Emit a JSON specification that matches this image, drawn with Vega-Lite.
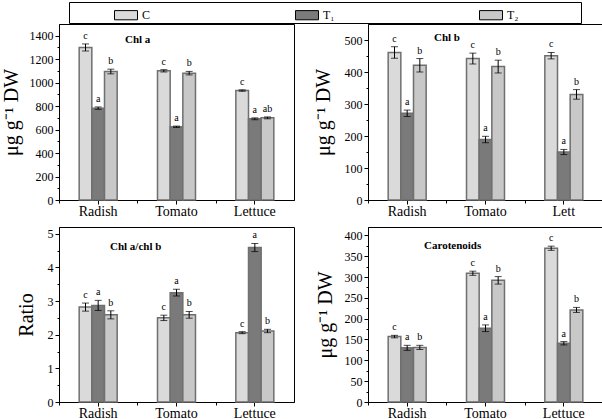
{
  "$schema": "https://vega.github.io/schema/vega-lite/v6.json",
  "padding": {"left": 0, "top": 1, "right": 0, "bottom": 0},
  "background": "white",
  "bounds": "flush",
  "columns": 2,
  "spacing": {"row": 27, "column": 74},
  "config": {
    "font": "Liberation Serif",
    "view": {"stroke": "black", "strokeWidth": 1},
    "axis": {"grid": false, "domainColor": "black", "tickColor": "black", "labelColor": "black", "titleColor": "black", "labelFont": "Liberation Serif", "titleFont": "Liberation Serif", "titleFontWeight": "normal", "tickSize": 4, "labelPadding": 2, "labelOverlap": false},
    "axisX": {"labelFontSize": 14, "labelAngle": 0, "title": null, "labelPadding": 0},
    "axisY": {"labelFontSize": 12, "titleFontSize": 20, "format": "d"},
    "title": {"anchor": "start", "frame": "group", "offset": 0, "baseline": "middle", "fontSize": 11, "fontWeight": "bold", "font": "Liberation Serif", "color": "black"}
  },
  "datasets": {
    "d": [
      {"p": "Chl a", "cat": "Radish", "trt": "C", "v": 1300, "lo": 1270, "hi": 1330, "lab": "c"},
      {"p": "Chl a", "cat": "Radish", "trt": "T₁", "v": 783, "lo": 773, "hi": 793, "lab": "a"},
      {"p": "Chl a", "cat": "Radish", "trt": "T₂", "v": 1095, "lo": 1075, "hi": 1115, "lab": "b"},
      {"p": "Chl a", "cat": "Tomato", "trt": "C", "v": 1101, "lo": 1091, "hi": 1111, "lab": "c"},
      {"p": "Chl a", "cat": "Tomato", "trt": "T₁", "v": 624, "lo": 618, "hi": 630, "lab": "a"},
      {"p": "Chl a", "cat": "Tomato", "trt": "T₂", "v": 1081, "lo": 1066, "hi": 1096, "lab": "b"},
      {"p": "Chl a", "cat": "Lettuce", "trt": "C", "v": 933, "lo": 927, "hi": 939, "lab": "c"},
      {"p": "Chl a", "cat": "Lettuce", "trt": "T₁", "v": 692, "lo": 684, "hi": 700, "lab": "a"},
      {"p": "Chl a", "cat": "Lettuce", "trt": "T₂", "v": 700, "lo": 692, "hi": 708, "lab": "ab"},
      {"p": "Chl b", "cat": "Radish", "trt": "C", "v": 461, "lo": 443, "hi": 479, "lab": "c"},
      {"p": "Chl b", "cat": "Radish", "trt": "T₁", "v": 271, "lo": 261, "hi": 281, "lab": "a"},
      {"p": "Chl b", "cat": "Radish", "trt": "T₂", "v": 421, "lo": 400, "hi": 442, "lab": "b"},
      {"p": "Chl b", "cat": "Tomato", "trt": "C", "v": 442, "lo": 425, "hi": 459, "lab": "c"},
      {"p": "Chl b", "cat": "Tomato", "trt": "T₁", "v": 189, "lo": 179, "hi": 199, "lab": "a"},
      {"p": "Chl b", "cat": "Tomato", "trt": "T₂", "v": 417, "lo": 397, "hi": 437, "lab": "b"},
      {"p": "Chl b", "cat": "Lettuce", "trt": "C", "v": 451, "lo": 441, "hi": 461, "lab": "c"},
      {"p": "Chl b", "cat": "Lettuce", "trt": "T₁", "v": 150, "lo": 142, "hi": 158, "lab": "a"},
      {"p": "Chl b", "cat": "Lettuce", "trt": "T₂", "v": 330, "lo": 315, "hi": 345, "lab": "b"},
      {"p": "Ratio", "cat": "Radish", "trt": "C", "v": 2.82, "lo": 2.70, "hi": 2.94, "lab": "c"},
      {"p": "Ratio", "cat": "Radish", "trt": "T₁", "v": 2.87, "lo": 2.72, "hi": 3.02, "lab": "a"},
      {"p": "Ratio", "cat": "Radish", "trt": "T₂", "v": 2.59, "lo": 2.47, "hi": 2.71, "lab": "b"},
      {"p": "Ratio", "cat": "Tomato", "trt": "C", "v": 2.50, "lo": 2.42, "hi": 2.58, "lab": "c"},
      {"p": "Ratio", "cat": "Tomato", "trt": "T₁", "v": 3.25, "lo": 3.15, "hi": 3.35, "lab": "a"},
      {"p": "Ratio", "cat": "Tomato", "trt": "T₂", "v": 2.59, "lo": 2.49, "hi": 2.69, "lab": "b"},
      {"p": "Ratio", "cat": "Lettuce", "trt": "C", "v": 2.06, "lo": 2.03, "hi": 2.09, "lab": "c"},
      {"p": "Ratio", "cat": "Lettuce", "trt": "T₁", "v": 4.59, "lo": 4.47, "hi": 4.71, "lab": "a"},
      {"p": "Ratio", "cat": "Lettuce", "trt": "T₂", "v": 2.11, "lo": 2.06, "hi": 2.16, "lab": "b"},
      {"p": "Car", "cat": "Radish", "trt": "C", "v": 157, "lo": 154, "hi": 160, "lab": "c"},
      {"p": "Car", "cat": "Radish", "trt": "T₁", "v": 130, "lo": 124, "hi": 136, "lab": "a"},
      {"p": "Car", "cat": "Radish", "trt": "T₂", "v": 131, "lo": 126, "hi": 136, "lab": "b"},
      {"p": "Car", "cat": "Tomato", "trt": "C", "v": 309, "lo": 304, "hi": 314, "lab": "c"},
      {"p": "Car", "cat": "Tomato", "trt": "T₁", "v": 177, "lo": 169, "hi": 185, "lab": "a"},
      {"p": "Car", "cat": "Tomato", "trt": "T₂", "v": 292, "lo": 283, "hi": 301, "lab": "b"},
      {"p": "Car", "cat": "Lettuce", "trt": "C", "v": 369, "lo": 364, "hi": 374, "lab": "c"},
      {"p": "Car", "cat": "Lettuce", "trt": "T₁", "v": 141, "lo": 137, "hi": 145, "lab": "a"},
      {"p": "Car", "cat": "Lettuce", "trt": "T₂", "v": 221, "lo": 215, "hi": 227, "lab": "b"}
    ]
  },
  "concat": [
    {
      "width": 235, "height": 176,
      "data": {"name": "d"},
      "transform": [{"filter": "datum.p === 'Chl a'"}],
      "title": {"text": "Chl a", "dx": 66, "dy": 24.5},
      "resolve": {"axis": {"y": "independent", "x": "independent"}},
      "encoding": {
        "x": {"field": "cat", "type": "nominal", "sort": ["Radish", "Tomato", "Lettuce"], "scale": {"paddingInner": 0.515, "paddingOuter": 0.2575}, "axis": null},
        "xOffset": {"field": "trt", "type": "nominal", "sort": ["C", "T₁", "T₂"], "scale": {"paddingInner": 0, "paddingOuter": 0}}
      },
      "layer": [
        {"mark": {"type": "bar", "stroke": "#6f6f6f", "strokeWidth": 1.5},
         "encoding": {
           "x": {"field": "cat", "type": "nominal", "sort": ["Radish", "Tomato", "Lettuce"], "scale": {"paddingInner": 0.515, "paddingOuter": 0.2575}, "axis": {"orient": "bottom"}},
           "y": {"field": "v", "type": "quantitative", "title": "μg g⁻¹ DW", "scale": {"domain": [0, 1500], "nice": false}, "axis": {"orient": "left", "values": [0, 200, 400, 600, 800, 1000, 1200, 1400], "labelOverlap": false, "titlePadding": 8}},
           "fill": {"field": "trt", "type": "nominal", "sort": ["C", "T₁", "T₂"], "scale": {"domain": ["C", "T₁", "T₂"], "range": ["#dadada", "#7a7a7a", "#c8c8c8"]},
             "legend": {"orient": "none", "legendX": 10, "legendY": -22, "direction": "horizontal", "columns": 3, "title": "\u00a0", "titleOrient": "right", "titlePadding": 61, "titleFontSize": 6, "symbolType": "M-1,-0.4H1V0.4H-1Z", "symbolSize": 529, "symbolStrokeColor": "black", "symbolStrokeWidth": 1, "labelFont": "Liberation Serif", "labelFontSize": 12, "labelColor": "black", "labelOffset": 4, "columnPadding": 100, "padding": 1, "fillColor": "white", "strokeColor": "black", "symbolOffset": 44, "gridAlign": "each"}}
         }},
        {"mark": {"type": "rule", "color": "black", "strokeWidth": 1},
         "encoding": {"y": {"field": "lo", "type": "quantitative", "scale": {"domain": [0, 1500], "nice": false}, "axis": null}, "y2": {"field": "hi"}}},
        {"mark": {"type": "tick", "color": "black", "size": 7, "thickness": 1},
         "encoding": {"y": {"field": "lo", "type": "quantitative", "scale": {"domain": [0, 1500], "nice": false}, "axis": null}}},
        {"mark": {"type": "tick", "color": "black", "size": 7, "thickness": 1},
         "encoding": {"y": {"field": "hi", "type": "quantitative", "scale": {"domain": [0, 1500], "nice": false}, "axis": null}}},
        {"mark": {"type": "text", "baseline": "bottom", "dy": -3, "fontSize": 10, "font": "Liberation Serif", "color": "black"},
         "encoding": {
           "x": {"field": "cat", "type": "nominal", "sort": ["Radish", "Tomato", "Lettuce"], "scale": {"paddingInner": 0.515, "paddingOuter": 0.2575}, "axis": {"orient": "bottom", "labels": false, "domain": false, "tickSize": 3, "tickOffset": -39.17}},
           "y": {"field": "hi", "type": "quantitative", "scale": {"domain": [0, 1500], "nice": false}, "axis": {"orient": "left", "values": [100, 300, 500, 700, 900, 1100, 1300], "labels": false, "domain": false, "title": null, "tickSize": 2}}, "text": {"field": "lab"}}}
      ]
    },
    {
      "width": 235, "height": 176,
      "data": {"name": "d"},
      "transform": [{"filter": "datum.p === 'Chl b'"}],
      "title": {"text": "Chl b", "dx": 66, "dy": 22.5},
      "resolve": {"axis": {"y": "independent", "x": "independent"}},
      "encoding": {
        "x": {"field": "cat", "type": "nominal", "sort": ["Radish", "Tomato", "Lettuce"], "scale": {"paddingInner": 0.515, "paddingOuter": 0.2575}, "axis": null},
        "xOffset": {"field": "trt", "type": "nominal", "sort": ["C", "T₁", "T₂"], "scale": {"paddingInner": 0, "paddingOuter": 0}}
      },
      "layer": [
        {"mark": {"type": "bar", "stroke": "#6f6f6f", "strokeWidth": 1.5},
         "encoding": {
           "x": {"field": "cat", "type": "nominal", "sort": ["Radish", "Tomato", "Lettuce"], "scale": {"paddingInner": 0.515, "paddingOuter": 0.2575}, "axis": {"orient": "bottom", "labelExpr": "datum.label === 'Lettuce' ? 'Lett' : datum.label"}},
           "y": {"field": "v", "type": "quantitative", "title": "μg g⁻¹ DW", "scale": {"domain": [0, 550], "nice": false}, "axis": {"orient": "left", "values": [0, 100, 200, 300, 400, 500], "labelOverlap": false, "titlePadding": 10.5}},
           "fill": {"field": "trt", "type": "nominal", "scale": {"domain": ["C", "T₁", "T₂"], "range": ["#dadada", "#7a7a7a", "#c8c8c8"]}, "legend": null}
         }},
        {"mark": {"type": "rule", "color": "black", "strokeWidth": 1},
         "encoding": {"y": {"field": "lo", "type": "quantitative", "scale": {"domain": [0, 550], "nice": false}, "axis": null}, "y2": {"field": "hi"}}},
        {"mark": {"type": "tick", "color": "black", "size": 7, "thickness": 1},
         "encoding": {"y": {"field": "lo", "type": "quantitative", "scale": {"domain": [0, 550], "nice": false}, "axis": null}}},
        {"mark": {"type": "tick", "color": "black", "size": 7, "thickness": 1},
         "encoding": {"y": {"field": "hi", "type": "quantitative", "scale": {"domain": [0, 550], "nice": false}, "axis": null}}},
        {"mark": {"type": "text", "baseline": "bottom", "dy": -3, "fontSize": 10, "font": "Liberation Serif", "color": "black"},
         "encoding": {
           "x": {"field": "cat", "type": "nominal", "sort": ["Radish", "Tomato", "Lettuce"], "scale": {"paddingInner": 0.515, "paddingOuter": 0.2575}, "axis": {"orient": "bottom", "labels": false, "domain": false, "tickSize": 3, "tickOffset": -39.17}},
           "y": {"field": "hi", "type": "quantitative", "scale": {"domain": [0, 550], "nice": false}, "axis": {"orient": "left", "values": [50, 150, 250, 350, 450], "labels": false, "domain": false, "title": null, "tickSize": 2}}, "text": {"field": "lab"}}}
      ]
    },
    {
      "width": 235, "height": 175,
      "data": {"name": "d"},
      "transform": [{"filter": "datum.p === 'Ratio'"}],
      "title": {"text": "Chl a/chl b", "dx": 51, "dy": 29},
      "resolve": {"axis": {"y": "independent", "x": "independent"}},
      "encoding": {
        "x": {"field": "cat", "type": "nominal", "sort": ["Radish", "Tomato", "Lettuce"], "scale": {"paddingInner": 0.515, "paddingOuter": 0.2575}, "axis": null},
        "xOffset": {"field": "trt", "type": "nominal", "sort": ["C", "T₁", "T₂"], "scale": {"paddingInner": 0, "paddingOuter": 0}}
      },
      "layer": [
        {"mark": {"type": "bar", "stroke": "#6f6f6f", "strokeWidth": 1.5},
         "encoding": {
           "x": {"field": "cat", "type": "nominal", "sort": ["Radish", "Tomato", "Lettuce"], "scale": {"paddingInner": 0.515, "paddingOuter": 0.2575}, "axis": {"orient": "bottom"}},
           "y": {"field": "v", "type": "quantitative", "title": "Ratio", "scale": {"domain": [0, 5.2], "nice": false}, "axis": {"orient": "left", "values": [0, 1, 2, 3, 4, 5], "labelOverlap": false, "titlePadding": 10.5}},
           "fill": {"field": "trt", "type": "nominal", "scale": {"domain": ["C", "T₁", "T₂"], "range": ["#dadada", "#7a7a7a", "#c8c8c8"]}, "legend": null}
         }},
        {"mark": {"type": "rule", "color": "black", "strokeWidth": 1},
         "encoding": {"y": {"field": "lo", "type": "quantitative", "scale": {"domain": [0, 5.2], "nice": false}, "axis": null}, "y2": {"field": "hi"}}},
        {"mark": {"type": "tick", "color": "black", "size": 7, "thickness": 1},
         "encoding": {"y": {"field": "lo", "type": "quantitative", "scale": {"domain": [0, 5.2], "nice": false}, "axis": null}}},
        {"mark": {"type": "tick", "color": "black", "size": 7, "thickness": 1},
         "encoding": {"y": {"field": "hi", "type": "quantitative", "scale": {"domain": [0, 5.2], "nice": false}, "axis": null}}},
        {"mark": {"type": "text", "baseline": "bottom", "dy": -3, "fontSize": 10, "font": "Liberation Serif", "color": "black"},
         "encoding": {
           "x": {"field": "cat", "type": "nominal", "sort": ["Radish", "Tomato", "Lettuce"], "scale": {"paddingInner": 0.515, "paddingOuter": 0.2575}, "axis": {"orient": "bottom", "labels": false, "domain": false, "tickSize": 3, "tickOffset": -39.17}},
           "y": {"field": "hi", "type": "quantitative", "scale": {"domain": [0, 5.2], "nice": false}, "axis": {"orient": "left", "values": [0.5, 1.5, 2.5, 3.5, 4.5], "labels": false, "domain": false, "title": null, "tickSize": 2}}, "text": {"field": "lab"}}}
      ]
    },
    {
      "width": 235, "height": 175,
      "data": {"name": "d"},
      "transform": [{"filter": "datum.p === 'Car'"}],
      "title": {"text": "Carotenoids", "dx": 56, "dy": 28},
      "resolve": {"axis": {"y": "independent", "x": "independent"}},
      "encoding": {
        "x": {"field": "cat", "type": "nominal", "sort": ["Radish", "Tomato", "Lettuce"], "scale": {"paddingInner": 0.515, "paddingOuter": 0.2575}, "axis": null},
        "xOffset": {"field": "trt", "type": "nominal", "sort": ["C", "T₁", "T₂"], "scale": {"paddingInner": 0, "paddingOuter": 0}}
      },
      "layer": [
        {"mark": {"type": "bar", "stroke": "#6f6f6f", "strokeWidth": 1.5},
         "encoding": {
           "x": {"field": "cat", "type": "nominal", "sort": ["Radish", "Tomato", "Lettuce"], "scale": {"paddingInner": 0.515, "paddingOuter": 0.2575}, "axis": {"orient": "bottom"}},
           "y": {"field": "v", "type": "quantitative", "title": "μg g⁻¹ DW", "scale": {"domain": [0, 420], "nice": false}, "axis": {"orient": "left", "values": [0, 50, 100, 150, 200, 250, 300, 350, 400], "labelOverlap": false, "titlePadding": 8.5}},
           "fill": {"field": "trt", "type": "nominal", "scale": {"domain": ["C", "T₁", "T₂"], "range": ["#dadada", "#7a7a7a", "#c8c8c8"]}, "legend": null}
         }},
        {"mark": {"type": "rule", "color": "black", "strokeWidth": 1},
         "encoding": {"y": {"field": "lo", "type": "quantitative", "scale": {"domain": [0, 420], "nice": false}, "axis": null}, "y2": {"field": "hi"}}},
        {"mark": {"type": "tick", "color": "black", "size": 7, "thickness": 1},
         "encoding": {"y": {"field": "lo", "type": "quantitative", "scale": {"domain": [0, 420], "nice": false}, "axis": null}}},
        {"mark": {"type": "tick", "color": "black", "size": 7, "thickness": 1},
         "encoding": {"y": {"field": "hi", "type": "quantitative", "scale": {"domain": [0, 420], "nice": false}, "axis": null}}},
        {"mark": {"type": "text", "baseline": "bottom", "dy": -3, "fontSize": 10, "font": "Liberation Serif", "color": "black"},
         "encoding": {
           "x": {"field": "cat", "type": "nominal", "sort": ["Radish", "Tomato", "Lettuce"], "scale": {"paddingInner": 0.515, "paddingOuter": 0.2575}, "axis": {"orient": "bottom", "labels": false, "domain": false, "tickSize": 3, "tickOffset": -39.17}},
           "y": {"field": "hi", "type": "quantitative", "scale": {"domain": [0, 420], "nice": false}, "axis": {"orient": "left", "values": [25, 75, 125, 175, 225, 275, 325, 375], "labels": false, "domain": false, "title": null, "tickSize": 2}}, "text": {"field": "lab"}}}
      ]
    }
  ]
}
